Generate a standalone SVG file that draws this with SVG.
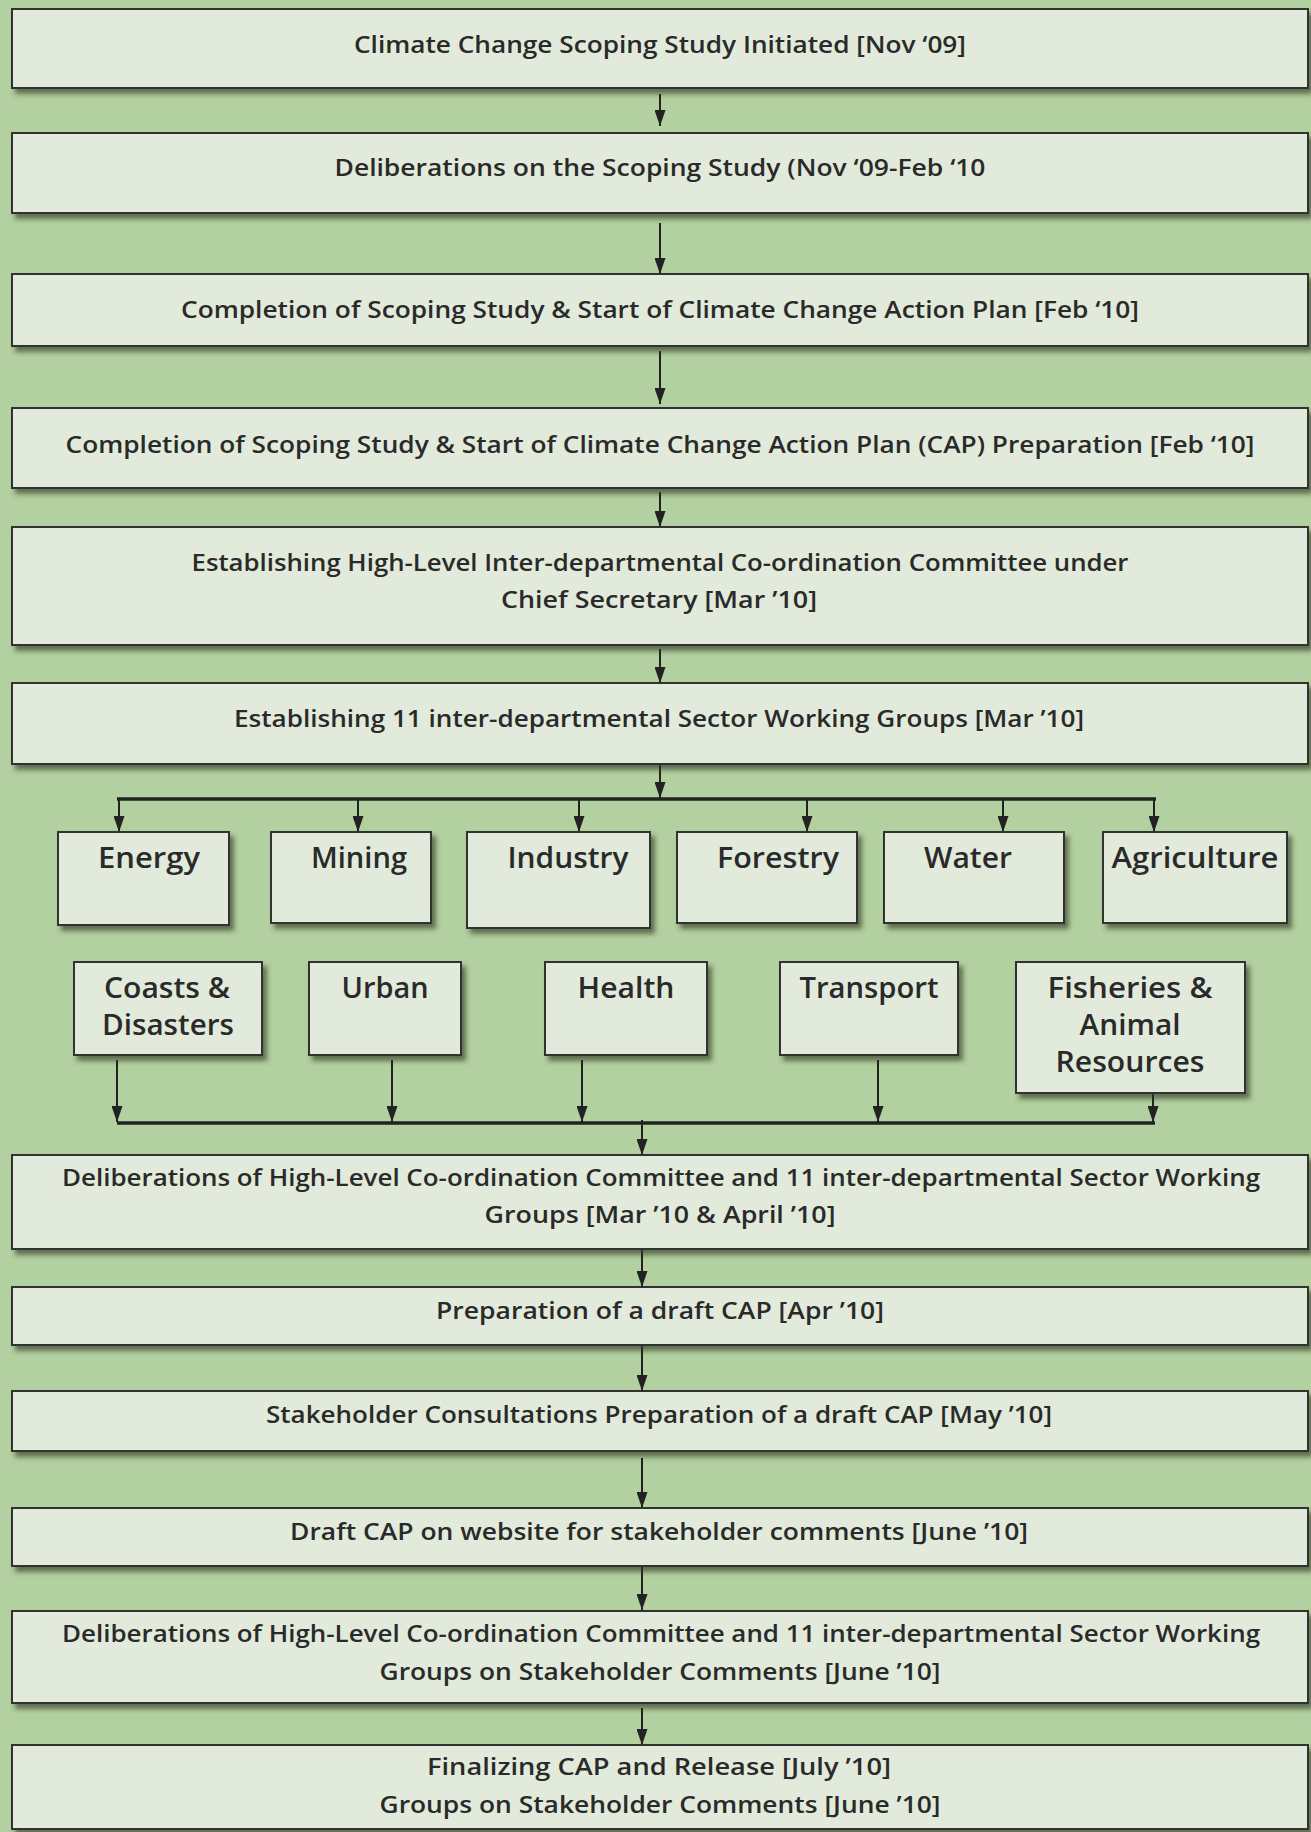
<svg xmlns="http://www.w3.org/2000/svg" width="1311" height="1832" viewBox="0 0 1311 1832">
<defs>
<filter id="sh" x="-5%" y="-20%" width="115%" height="150%">
<feDropShadow dx="4" dy="5" stdDeviation="2.5" flood-color="#2f3a28" flood-opacity="0.65"/>
</filter>
<marker id="ah" markerUnits="userSpaceOnUse" markerWidth="16" markerHeight="11" refX="16" refY="5.5" orient="auto" viewBox="0 0 16 11">
<path d="M0,0 L16,5.5 L0,11 z" fill="#222"/>
</marker>
</defs>
<style>
.box{fill:#e2ebdb;stroke:#333;stroke-width:2;filter:url(#sh)}
.t{font-family:"Open Sans","DejaVu Sans",sans-serif;font-weight:600;font-size:24px;fill:#2a2a2a;text-anchor:middle}
.s{font-family:"Open Sans","DejaVu Sans",sans-serif;font-weight:600;font-size:29px;fill:#2a2a2a;text-anchor:middle}
.c{stroke:#222;stroke-width:2;fill:none}
.a{stroke:#222;stroke-width:2;fill:none;marker-end:url(#ah)}
.bus{stroke:#222;stroke-width:3.5;fill:none}
</style>
<rect x="0" y="0" width="1311" height="1832" fill="#b3d0a0"/>

<g id="connectors">
<line class="a" x1="660" y1="94" x2="660" y2="126"/>
<line class="a" x1="660" y1="223" x2="660" y2="274"/>
<line class="a" x1="660" y1="351" x2="660" y2="404"/>
<line class="a" x1="660" y1="492" x2="660" y2="527"/>
<line class="a" x1="660" y1="649" x2="660" y2="683"/>
<line class="a" x1="660" y1="764" x2="660" y2="798"/>
<line class="bus" x1="117" y1="799" x2="1156" y2="799"/>
<line class="a" x1="119" y1="799" x2="119" y2="832"/>
<line class="a" x1="358" y1="799" x2="358" y2="832"/>
<line class="a" x1="579" y1="799" x2="579" y2="832"/>
<line class="a" x1="807" y1="799" x2="807" y2="832"/>
<line class="a" x1="1003" y1="799" x2="1003" y2="832"/>
<line class="a" x1="1154" y1="799" x2="1154" y2="832"/>
<line class="a" x1="117" y1="1060" x2="117" y2="1122"/>
<line class="a" x1="392" y1="1060" x2="392" y2="1122"/>
<line class="a" x1="582" y1="1060" x2="582" y2="1122"/>
<line class="a" x1="878" y1="1060" x2="878" y2="1122"/>
<line class="a" x1="1153" y1="1092" x2="1153" y2="1122"/>
<line class="bus" x1="117" y1="1123" x2="1155" y2="1123"/>
<line class="a" x1="642" y1="1120" x2="642" y2="1155"/>
<line class="a" x1="642" y1="1249" x2="642" y2="1287"/>
<line class="a" x1="642" y1="1345" x2="642" y2="1391"/>
<line class="a" x1="642" y1="1458" x2="642" y2="1508"/>
<line class="a" x1="642" y1="1566" x2="642" y2="1610"/>
<line class="a" x1="642" y1="1708" x2="642" y2="1745"/>
</g>

<g id="n1"><rect class="box" x="12" y="9" width="1296" height="79"/>
<text class="t" x="660" y="53" textLength="612" lengthAdjust="spacingAndGlyphs">Climate Change Scoping Study Initiated [Nov ‘09]</text></g>
<g id="n2"><rect class="box" x="12" y="133" width="1296" height="80"/>
<text class="t" x="660" y="176" textLength="651" lengthAdjust="spacingAndGlyphs">Deliberations on the Scoping Study (Nov ‘09-Feb ‘10</text></g>
<g id="n3"><rect class="box" x="12" y="274" width="1296" height="72"/>
<text class="t" x="660" y="318" textLength="958" lengthAdjust="spacingAndGlyphs">Completion of Scoping Study &amp; Start of Climate Change Action Plan [Feb ‘10]</text></g>
<g id="n4"><rect class="box" x="12" y="408" width="1296" height="80"/>
<text class="t" x="660" y="453" textLength="1189" lengthAdjust="spacingAndGlyphs">Completion of Scoping Study &amp; Start of Climate Change Action Plan (CAP) Preparation [Feb ‘10]</text></g>
<g id="n5"><rect class="box" x="12" y="527" width="1296" height="118"/>
<text class="t" x="660" y="571" textLength="937" lengthAdjust="spacingAndGlyphs">Establishing High-Level Inter-departmental Co-ordination Committee under</text>
<text class="t" x="659" y="608" textLength="316" lengthAdjust="spacingAndGlyphs">Chief Secretary [Mar ’10]</text></g>
<g id="n6"><rect class="box" x="12" y="683" width="1296" height="81"/>
<text class="t" x="659" y="727" textLength="850" lengthAdjust="spacingAndGlyphs">Establishing 11 inter-departmental Sector Working Groups [Mar ’10]</text></g>

<g id="energy"><rect class="box" x="58" y="832" width="171" height="93"/>
<text class="s" x="149" y="868" textLength="102" lengthAdjust="spacingAndGlyphs">Energy</text></g>
<g id="mining"><rect class="box" x="271" y="832" width="160" height="91"/>
<text class="s" x="359" y="868" textLength="96" lengthAdjust="spacingAndGlyphs">Mining</text></g>
<g id="industry"><rect class="box" x="467" y="832" width="183" height="96"/>
<text class="s" x="568" y="868" textLength="121" lengthAdjust="spacingAndGlyphs">Industry</text></g>
<g id="forestry"><rect class="box" x="677" y="832" width="180" height="91"/>
<text class="s" x="778" y="868" textLength="122" lengthAdjust="spacingAndGlyphs">Forestry</text></g>
<g id="water"><rect class="box" x="884" y="832" width="180" height="91"/>
<text class="s" x="968" y="868" textLength="88" lengthAdjust="spacingAndGlyphs">Water</text></g>
<g id="agriculture"><rect class="box" x="1103" y="832" width="184" height="91"/>
<text class="s" x="1195" y="868" textLength="167" lengthAdjust="spacingAndGlyphs">Agriculture</text></g>

<g id="coasts"><rect class="box" x="74" y="962" width="188" height="93"/>
<text class="s" x="167" y="998" textLength="126" lengthAdjust="spacingAndGlyphs">Coasts &amp;</text>
<text class="s" x="168" y="1035" textLength="132" lengthAdjust="spacingAndGlyphs">Disasters</text></g>
<g id="urban"><rect class="box" x="309" y="962" width="152" height="93"/>
<text class="s" x="385" y="998" textLength="87" lengthAdjust="spacingAndGlyphs">Urban</text></g>
<g id="health"><rect class="box" x="545" y="962" width="162" height="93"/>
<text class="s" x="626" y="998" textLength="97" lengthAdjust="spacingAndGlyphs">Health</text></g>
<g id="transport"><rect class="box" x="780" y="962" width="178" height="93"/>
<text class="s" x="869" y="998" textLength="139" lengthAdjust="spacingAndGlyphs">Transport</text></g>
<g id="fisheries"><rect class="box" x="1016" y="962" width="229" height="131"/>
<text class="s" x="1130" y="998" textLength="165" lengthAdjust="spacingAndGlyphs">Fisheries &amp;</text>
<text class="s" x="1130" y="1035" textLength="101" lengthAdjust="spacingAndGlyphs">Animal</text>
<text class="s" x="1130" y="1072" textLength="149" lengthAdjust="spacingAndGlyphs">Resources</text></g>

<g id="n7"><rect class="box" x="12" y="1155" width="1296" height="94"/>
<text class="t" x="661" y="1186" textLength="1198" lengthAdjust="spacingAndGlyphs">Deliberations of High-Level Co-ordination Committee and 11 inter-departmental Sector Working</text>
<text class="t" x="660" y="1223" textLength="351" lengthAdjust="spacingAndGlyphs">Groups [Mar ’10 &amp; April ’10]</text></g>
<g id="n8"><rect class="box" x="12" y="1287" width="1296" height="58"/>
<text class="t" x="660" y="1319" textLength="448" lengthAdjust="spacingAndGlyphs">Preparation of a draft CAP [Apr ’10]</text></g>
<g id="n9"><rect class="box" x="12" y="1391" width="1296" height="60"/>
<text class="t" x="659" y="1423" textLength="786" lengthAdjust="spacingAndGlyphs">Stakeholder Consultations Preparation of a draft CAP [May ’10]</text></g>
<g id="n10"><rect class="box" x="12" y="1508" width="1296" height="58"/>
<text class="t" x="659" y="1540" textLength="738" lengthAdjust="spacingAndGlyphs">Draft CAP on website for stakeholder comments [June ’10]</text></g>
<g id="n11"><rect class="box" x="12" y="1611" width="1296" height="92"/>
<text class="t" x="661" y="1642" textLength="1198" lengthAdjust="spacingAndGlyphs">Deliberations of High-Level Co-ordination Committee and 11 inter-departmental Sector Working</text>
<text class="t" x="660" y="1680" textLength="561" lengthAdjust="spacingAndGlyphs">Groups on Stakeholder Comments [June ’10]</text></g>
<g id="n12"><rect class="box" x="12" y="1745" width="1296" height="84"/>
<text class="t" x="659" y="1775" textLength="464" lengthAdjust="spacingAndGlyphs">Finalizing CAP and Release [July ’10]</text>
<text class="t" x="660" y="1813" textLength="561" lengthAdjust="spacingAndGlyphs">Groups on Stakeholder Comments [June ’10]</text></g>
</svg>
